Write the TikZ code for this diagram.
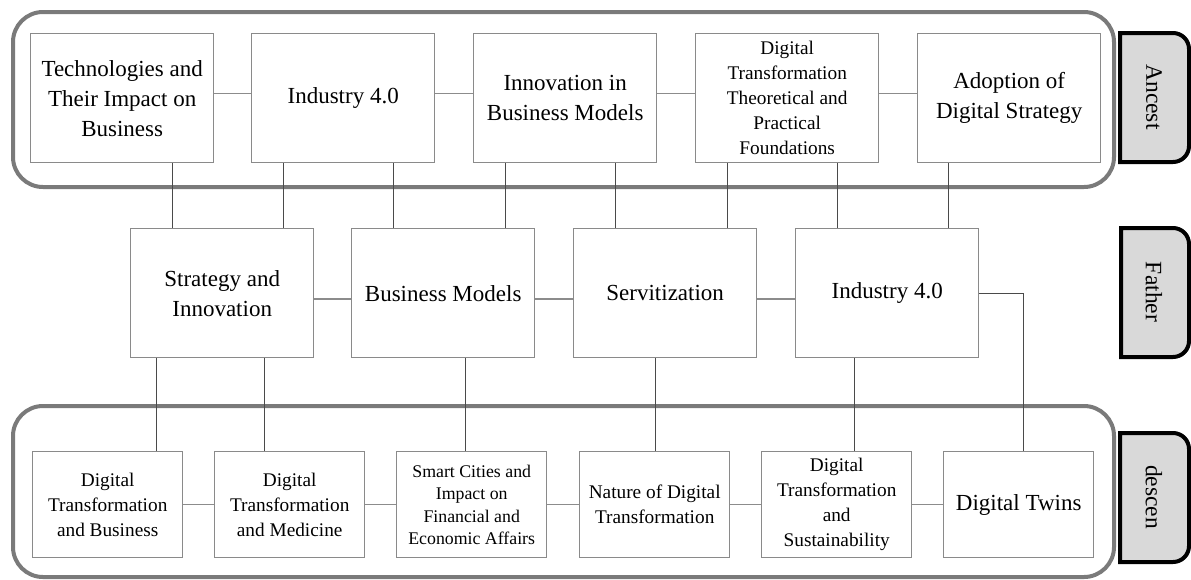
\documentclass[tikz,border=0pt]{standalone}
\usepackage{fontspec}
\setmainfont{Liberation Serif}
\definecolor{boxgray}{HTML}{8A8A8A}
\definecolor{contgray}{HTML}{7A7A7A}
\definecolor{hgray}{HTML}{8C8C8C}
\definecolor{vdark}{HTML}{4A4A4A}
\definecolor{tabfill}{HTML}{D9D9D9}
\begin{document}
\begin{tikzpicture}[x=1pt,y=-1pt,
  box/.style={draw=boxgray, line width=1.4pt, fill=white, anchor=north west, align=center, inner sep=2pt},
  bigbox/.style={box, minimum width=183pt, minimum height=129pt},
  smallbox/.style={box, minimum width=150pt, minimum height=106pt},
  fbig/.style={font=\fontsize{23}{30}\selectfont},
  fmid/.style={font=\fontsize{19.3}{25}\selectfont},
  fsmall/.style={font=\fontsize{17.8}{22.5}\selectfont},
  container/.style={draw=contgray, line width=4pt, rounded corners=30pt},
  tab/.style={draw=black, line width=4pt, fill=tabfill},
  tabtext/.style={rotate=-90, font=\fontsize{23.5}{28}\selectfont},
  hline/.style={draw=hgray, line width=1.5pt},
  vline/.style={draw=vdark, line width=1.4pt}]
\useasboundingbox (0,0) rectangle (1191,579);

% containers
\draw[container] (13,12) rectangle (1114,187);
\draw[container] (13,406) rectangle (1114,577);

% tabs
\draw[tab] (1120,162) -- (1120,33) -- (1150,33) [rounded corners=16pt] -- (1189,33) -- (1189,162) -- (1150,162) [sharp corners] -- cycle;
\node[tabtext] (tA) at (1154,97) {Ancest};
\draw[tab] (1121,357) -- (1121,228) -- (1150,228) [rounded corners=16pt] -- (1189,228) -- (1189,357) -- (1150,357) [sharp corners] -- cycle;
\node[tabtext] (tF) at (1154,292) {Father};
\draw[tab] (1120,562) -- (1120,433) -- (1150,433) [rounded corners=16pt] -- (1189,433) -- (1189,562) -- (1150,562) [sharp corners] -- cycle;
\node[tabtext] (tD) at (1154,497) {descen};

% top row
\node[bigbox, fbig] (t1) at (30,33) {Technologies and\\Their Impact on\\Business};
\node[bigbox, fbig] (t2) at (251,33) {Industry 4.0};
\node[bigbox, fbig] (t3) at (473,33) {Innovation in\\Business Models};
\node[bigbox, fmid] (t4) at (695,33) {Digital\\Transformation\\Theoretical and\\Practical\\Foundations};
\node[bigbox, fbig] (t5) at (917,33) {Adoption of\\Digital Strategy};

% middle row
\node[bigbox, fbig] (m1) at (130,228) {Strategy and\\Innovation};
\node[bigbox, fbig] (m2) at (351,228) {Business Models};
\node[bigbox, fbig] (m3) at (573,228) {Servitization};
\node[bigbox, fbig] (m4) at (795,228) {Industry 4.0};

% bottom row
\node[smallbox, fmid] (b1) at (32,451) {Digital\\Transformation\\and Business};
\node[smallbox, fmid] (b2) at (214,451) {Digital\\Transformation\\and Medicine};
\node[smallbox, fsmall] (b3) at (396,451) {Smart Cities and\\Impact on\\Financial and\\Economic Affairs};
\node[smallbox, fmid] (b4) at (579,451) {Nature of Digital\\Transformation};
\node[smallbox, fmid] (b5) at (761,451) {Digital\\Transformation\\and\\Sustainability};
\node[smallbox, fbig] (b6) at (943,451) {Digital Twins};

% horizontal connectors
\foreach \a/\b in {t1/t2,t2/t3,t3/t4,t4/t5}
  \draw[hline] ([yshift=4.5pt]\a.east) -- ([yshift=4.5pt]\b.west);
\foreach \a/\b in {m1/m2,m2/m3,m3/m4}
  \draw[hline] ([yshift=-6pt]\a.east) -- ([yshift=-6pt]\b.west);
\foreach \a/\b in {b1/b2,b2/b3,b3/b4,b4/b5,b5/b6}
  \draw[hline] (\a.east) -- (\b.west);

% top to middle
\draw[vline] ([xshift=50pt]t1.south) -- ([xshift=50pt]t1.south |- m1.north);
\draw[vline] ([xshift=-60pt]t2.south) -- ([xshift=-60pt]t2.south |- m1.north);
\draw[vline] ([xshift=50pt]t2.south) -- ([xshift=50pt]t2.south |- m2.north);
\draw[vline] ([xshift=-60pt]t3.south) -- ([xshift=-60pt]t3.south |- m2.north);
\draw[vline] ([xshift=50pt]t3.south) -- ([xshift=50pt]t3.south |- m3.north);
\draw[vline] ([xshift=-60pt]t4.south) -- ([xshift=-60pt]t4.south |- m3.north);
\draw[vline] ([xshift=50pt]t4.south) -- ([xshift=50pt]t4.south |- m4.north);
\draw[vline] ([xshift=-61pt]t5.south) -- ([xshift=-61pt]t5.south |- m4.north);

% middle to bottom
\draw[vline] ([xshift=-66pt]m1.south) -- ([xshift=-66pt]m1.south |- b1.north);
\draw[vline] ([xshift=42pt]m1.south) -- ([xshift=42pt]m1.south |- b2.north);
\draw[vline] ([xshift=22pt]m2.south) -- ([xshift=22pt]m2.south |- b3.north);
\draw[vline] ([xshift=-10pt]m3.south) -- ([xshift=-10pt]m3.south |- b4.north);
\draw[vline] ([xshift=-33pt]m4.south) -- ([xshift=-33pt]m4.south |- b5.north);
\draw[vline] (m4.east) -| ([xshift=5pt]b6.north);
\end{tikzpicture}
\end{document}
